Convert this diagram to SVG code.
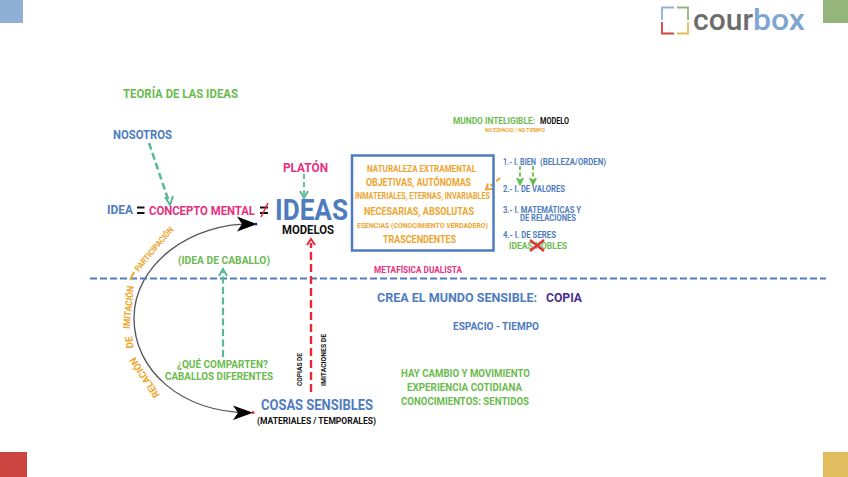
<svg xmlns="http://www.w3.org/2000/svg" width="848" height="477" viewBox="0 0 848 477">
<style>
text{font-family:Roboto,"Liberation Sans",Arial,sans-serif;font-weight:700}
.b{fill:#4f7cc0}.g{fill:#6cbb4f}.o{fill:#eda52e}.p{fill:#e8307f}.k{fill:#111}
.curve{fill:none;stroke:#555;stroke-width:1.3}
.dt{fill:none;stroke:#58b998;stroke-width:2.2;stroke-dasharray:7 3.5}
.ch{fill:none;stroke-width:2}
.lb{fill:none;stroke-width:1.8}
</style>
<rect width="848" height="477" fill="#fff"/>
<g id="corners">
<rect x="0" y="0" width="23" height="23" fill="#8fafd4"/>
<rect x="823" y="0" width="25" height="23" fill="#96b57c"/>
<rect x="0" y="452" width="27" height="25" fill="#cc4540"/>
<rect x="823" y="452" width="25" height="25" fill="#e2bd5f"/>
</g>
<g id="logo">
<path class="lb" d="M662 20V7.500H674" stroke="#8fafd4"/>
<path class="lb" d="M677 7.500H688V20" stroke="#96b57c"/>
<path class="lb" d="M662 22V33.500H674" stroke="#cc4540"/>
<path class="lb" d="M677 33.500H688V22" stroke="#e2bd5f"/>
<text x="693" y="30" font-size="30" textLength="60" lengthAdjust="spacingAndGlyphs" style="font-weight:500;fill:#6d6d6d">cour</text>
<text x="753" y="30" font-size="30" textLength="52" lengthAdjust="spacingAndGlyphs" style="font-weight:500;fill:#7ea6cf">box</text>
</g>
<g id="connectors">
<path class="curve" d="M255 224C190 222 134 265 134 318C134 370 180 412 250 413"/>
<path d="M257 224L237 231.500L242 224L237 216.500Z" fill="#000"/>
<path d="M253 412.700L233 420L238 412.700L233 405.500Z" fill="#000"/>
<path d="M90 278.500H826" fill="none" stroke="#4f7cc0" stroke-width="1.800" stroke-dasharray="7 3"/>
<path class="dt" style="stroke-width:2.500" d="M149 143L169 202"/>
<path class="ch" stroke="#58b998" d="M165 197L170 205L173 196"/>
<path class="dt" style="stroke-width:1.800;stroke-dasharray:5 3" d="M304 174V196"/>
<path class="ch" stroke="#58b998" d="M300 191L304 198L308 191"/>
<path class="dt" d="M223 357V271"/>
<path class="ch" stroke="#58b998" d="M219 276L223 269L227 276"/>
<path d="M311 392V243" fill="none" stroke="#e8283c" stroke-width="2.400" stroke-dasharray="8 4"/>
<path class="ch" stroke="#e8283c" d="M307 245L311 239L315 245"/>
<path d="M520 166V182M533 166V182" fill="none" stroke="#6cbb4f" stroke-width="1.800" stroke-dasharray="4 2.500"/>
<path class="ch" stroke="#6cbb4f" d="M517 178L520 184L523 178M530 178L533 184L536 178"/>
<path d="M500 178L488 188" fill="none" stroke="#eda52e" stroke-width="2" stroke-dasharray="5 2.500"/>
<path class="ch" stroke="#eda52e" d="M488 183.500L486 189.500L493 189"/>
<circle cx="256" cy="224" r="1.500" fill="#1a2fd0"/>
<circle cx="253" cy="412.500" r="1.500" fill="#e8283c"/>
</g>
<g id="title"><text class="g" x="123" y="98" font-size="12.500" textLength="115" lengthAdjust="spacingAndGlyphs">TEORÍA DE LAS IDEAS</text></g>
<g id="nosotros"><text class="b" x="113" y="139" font-size="12.500" textLength="59" lengthAdjust="spacingAndGlyphs">NOSOTROS</text></g>
<g id="idea-eq">
<text class="b" x="107" y="214" font-size="12.500" textLength="26" lengthAdjust="spacingAndGlyphs">IDEA</text>
<path d="M137 207.500H144.500M137 213H144.500" stroke="#111" stroke-width="2.200"/>
<text class="p" x="149" y="215" font-size="12.500" textLength="106" lengthAdjust="spacingAndGlyphs">CONCEPTO MENTAL</text>
<path d="M260 207.500H268M260 213H268" stroke="#111" stroke-width="2.200"/>
<path d="M261 217L268 203" stroke="#e8283c" stroke-width="1.500"/>
</g>
<g id="platon"><text class="p" x="283" y="172" font-size="13.500" textLength="45" lengthAdjust="spacingAndGlyphs">PLATÓN</text></g>
<g id="ideas">
<text class="b" x="275" y="220" font-size="30" textLength="73" lengthAdjust="spacingAndGlyphs">IDEAS</text>
<text class="k" x="282" y="233.500" font-size="12" textLength="52" lengthAdjust="spacingAndGlyphs">MODELOS</text>
</g>
<g id="box">
<rect x="352" y="155.500" width="141.500" height="95" fill="none" stroke="#4f7cc0" stroke-width="2.500"/>
<text class="o" x="367" y="171.500" font-size="9.500" textLength="109" lengthAdjust="spacingAndGlyphs">NATURALEZA EXTRAMENTAL</text>
<text class="o" x="366" y="185.500" font-size="10.500" textLength="105" lengthAdjust="spacingAndGlyphs">OBJETIVAS, AUTÓNOMAS</text>
<text class="o" x="355" y="198.500" font-size="8.500" textLength="135" lengthAdjust="spacingAndGlyphs">INMATERIALES, ETERNAS, INVARIABLES</text>
<text class="o" x="364" y="215" font-size="10.500" textLength="110" lengthAdjust="spacingAndGlyphs">NECESARIAS, ABSOLUTAS</text>
<text class="o" x="357" y="227.500" font-size="8" textLength="131" lengthAdjust="spacingAndGlyphs">ESENCIAS (CONOCIMIENTO VERDADERO)</text>
<text class="o" x="383" y="243" font-size="10.500" textLength="73" lengthAdjust="spacingAndGlyphs">TRASCENDENTES</text>
</g>
<g id="mundo-inteligible">
<text class="g" transform="translate(453,123.500) scale(1,1.200)" font-size="8" textLength="82" lengthAdjust="spacingAndGlyphs">MUNDO INTELIGIBLE:</text>
<text class="k" x="540" y="123.500" font-size="9" textLength="29" lengthAdjust="spacingAndGlyphs">MODELO</text>
<text class="o" x="485" y="132" font-size="5.500" textLength="60" lengthAdjust="spacingAndGlyphs">NO ESPACIO / NO TIEMPO</text>
</g>
<g id="lista">
<text class="b" x="503" y="165" font-size="8.500" textLength="33" lengthAdjust="spacingAndGlyphs">1.- I. BIEN</text>
<text class="b" x="540" y="165" font-size="8.500" textLength="66" lengthAdjust="spacingAndGlyphs">(BELLEZA/ORDEN)</text>
<text class="b" x="503" y="192" font-size="8.500" textLength="62" lengthAdjust="spacingAndGlyphs">2.- I. DE VALORES</text>
<text class="b" x="503" y="212.500" font-size="8.500" textLength="78" lengthAdjust="spacingAndGlyphs">3.- I. MATEMÁTICAS Y</text>
<text class="b" x="520" y="221" font-size="8.500" textLength="56" lengthAdjust="spacingAndGlyphs">DE RELACIONES</text>
<text class="b" x="503" y="238" font-size="8.500" textLength="53" lengthAdjust="spacingAndGlyphs">4.- I. DE SERES</text>
<text class="g" x="509" y="249" font-size="8.500" textLength="58" lengthAdjust="spacingAndGlyphs">IDEAS NOBLES</text>
<path d="M530 240L544 251M544 240L530 251" stroke="#e0343c" stroke-width="2.500"/>
</g>
<g id="metafisica"><text class="p" x="374" y="273" font-size="9.500" textLength="88" lengthAdjust="spacingAndGlyphs">METAFÍSICA DUALISTA</text></g>
<g id="caballo">
<text class="g" x="178" y="264" font-size="11" textLength="92" lengthAdjust="spacingAndGlyphs">(IDEA DE CABALLO)</text>
<text class="g" x="177" y="368" font-size="10.500" textLength="91" lengthAdjust="spacingAndGlyphs">¿QUÉ COMPARTEN?</text>
<text class="g" x="165" y="380" font-size="10.500" textLength="108" lengthAdjust="spacingAndGlyphs">CABALLOS DIFERENTES</text>
</g>
<g id="sensible">
<text class="b" x="377" y="302" font-size="13" textLength="160" lengthAdjust="spacingAndGlyphs">CREA EL MUNDO SENSIBLE:</text>
<text x="546" y="302" font-size="13.500" textLength="36" lengthAdjust="spacingAndGlyphs" fill="#4a2d8a">COPIA</text>
<text class="b" x="453" y="330" font-size="10.500" textLength="86" lengthAdjust="spacingAndGlyphs">ESPACIO - TIEMPO</text>
<text class="g" x="401" y="377" font-size="10.500" textLength="129" lengthAdjust="spacingAndGlyphs">HAY CAMBIO Y MOVIMIENTO</text>
<text class="g" x="407" y="391" font-size="10.500" textLength="115" lengthAdjust="spacingAndGlyphs">EXPERIENCIA COTIDIANA</text>
<text class="g" x="401" y="405" font-size="10.500" textLength="128" lengthAdjust="spacingAndGlyphs">CONOCIMIENTOS: SENTIDOS</text>
</g>
<g id="cosas">
<text class="b" x="261" y="410" font-size="14" textLength="112" lengthAdjust="spacingAndGlyphs">COSAS SENSIBLES</text>
<text class="k" x="257" y="424" font-size="9" textLength="119" lengthAdjust="spacingAndGlyphs">(MATERIALES / TEMPORALES)</text>
</g>
<g id="copias">
<text class="k" transform="translate(302,386) rotate(-90)" font-size="7" textLength="33" lengthAdjust="spacingAndGlyphs">COPIAS DE</text>
<text class="k" transform="translate(326,386) rotate(-90)" font-size="7" textLength="52" lengthAdjust="spacingAndGlyphs">IMITACIONES DE</text>
</g>
<g id="relacion">
<text class="o" transform="translate(160,395) rotate(-123)" font-size="10" textLength="46" lengthAdjust="spacingAndGlyphs">RELACIÓN</text>
<text class="o" transform="translate(133.500,348) rotate(-97)" font-size="10" textLength="12" lengthAdjust="spacingAndGlyphs">DE</text>
<text class="o" transform="translate(129.500,329) rotate(-84)" font-size="9.500" textLength="43" lengthAdjust="spacingAndGlyphs">IMITACIÓN</text>
<path d="M130 280L134 272" stroke="#eda52e" stroke-width="1.800"/>
<text class="o" transform="translate(138.500,272) rotate(-50)" font-size="8.500" textLength="55" lengthAdjust="spacingAndGlyphs">PARTICIPACIÓN</text>
</g>
</svg>
